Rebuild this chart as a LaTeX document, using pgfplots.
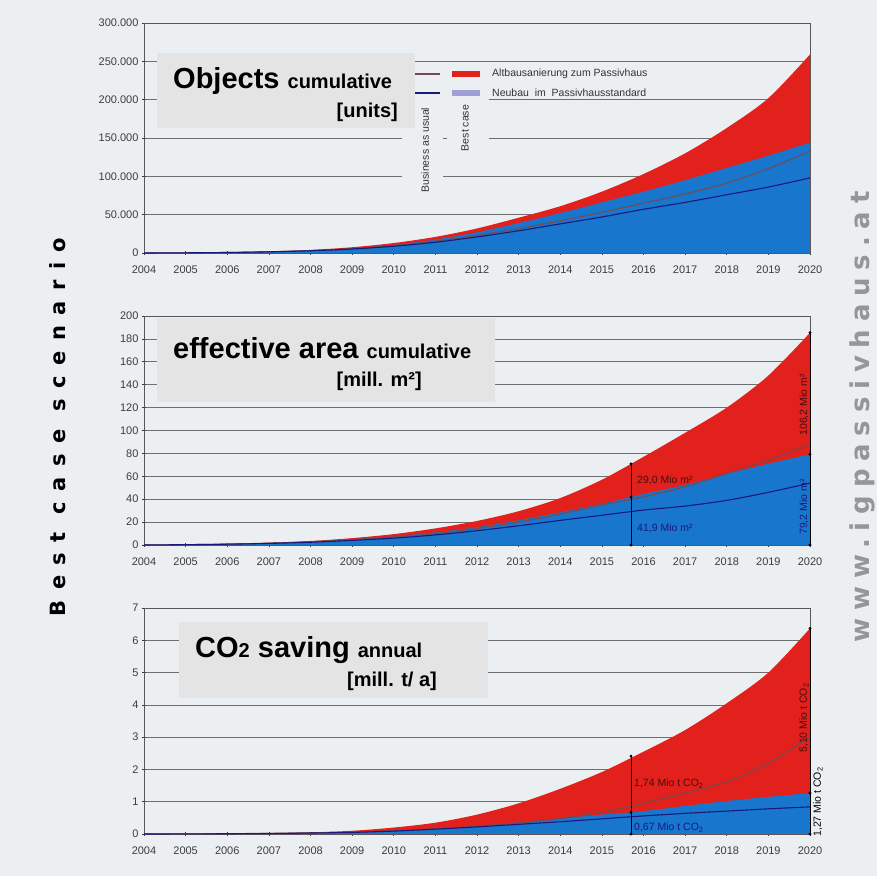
\documentclass[border=0pt]{standalone}
\usepackage{pgfplots}
\usepackage{pgfplotstable}
\pgfplotsset{compat=1.18}
\usepackage{fontspec}
\setmainfont{Liberation Sans}
\newfontfamily\wide{DejaVu Sans}

\definecolor{bg}{RGB}{236,239,242}
\definecolor{boxgrey}{RGB}{228,228,228}
\definecolor{pvred}{RGB}{226,32,28}
\definecolor{pvblue}{RGB}{24,118,204}
\definecolor{bauline}{RGB}{115,75,80}
\definecolor{navy}{RGB}{25,25,125}
\definecolor{lav}{RGB}{160,160,215}
\definecolor{gridc}{RGB}{110,110,110}
\definecolor{tickc}{RGB}{60,60,60}
\definecolor{notered}{RGB}{70,15,15}

% objects, cumulative [units]
\pgfplotstableread{
year red blue bau neu
2004 0 0 0 0
2005 300 250 250 230
2006 900 750 700 650
2007 2000 1700 1600 1500
2008 4000 3300 3100 2900
2009 7500 6000 5600 5200
2010 13000 10500 9500 8800
2011 21000 17500 15500 14000
2012 32000 27000 23000 21000
2013 46000 39000 32000 29000
2014 61000 52000 42000 38000
2015 80000 66000 53000 47000
2016 103000 80000 65000 57000
2017 130000 95000 77000 66000
2018 163000 111000 91000 76000
2019 202000 127000 110000 86000
2020 259000 144000 133000 98000
}\objects

% effective area, cumulative [mill. m2]
\pgfplotstableread{
year red blue bau neu
2004 0 0 0 0
2005 0.4 0.35 0.3 0.3
2006 1.0 0.9 0.8 0.7
2007 2.0 1.7 1.6 1.4
2008 3.5 3.0 2.8 2.4
2009 6.0 5.0 4.6 4.0
2010 9.5 7.5 7.0 6.0
2011 14.5 11.0 10.0 8.8
2012 21.0 15.5 14.5 12.5
2013 29.5 21.5 20.0 16.8
2014 41.0 28.5 27.0 21.5
2015 57.0 36.0 35.0 26.0
2016 77.0 44.5 42.0 30.5
2017 98.0 52.5 51.0 34.0
2018 120.0 62.0 62.5 39.0
2019 148.0 71.0 74.0 46.0
2020 185.4 79.2 88.0 54.0
}\area

% CO2 saving, annual [mill. t/a]
\pgfplotstableread{
year red blue bau neu
2004 0 0 0 0
2005 0.005 0.004 0.004 0.003
2006 0.012 0.010 0.010 0.008
2007 0.025 0.020 0.020 0.016
2008 0.05 0.035 0.035 0.030
2009 0.10 0.06 0.06 0.05
2010 0.20 0.10 0.10 0.09
2011 0.35 0.16 0.16 0.15
2012 0.60 0.25 0.24 0.22
2013 0.95 0.36 0.34 0.30
2014 1.40 0.48 0.48 0.38
2015 1.92 0.60 0.68 0.47
2016 2.55 0.71 0.95 0.56
2017 3.22 0.87 1.27 0.64
2018 4.05 1.02 1.62 0.71
2019 5.00 1.15 2.20 0.78
2020 6.37 1.27 3.00 0.84
}\cotwo

\pgfplotsset{
  panel/.style={
    scale only axis, width=666pt, anchor=south west,
    xmin=2004, xmax=2020, ymin=0,
    xtick={2004,2005,2006,2007,2008,2009,2010,2011,2012,2013,2014,2015,2016,2017,2018,2019,2020},
    xticklabels={2004,2005,2006,2007,2008,2009,2010,2011,2012,2013,2014,2015,2016,2017,2018,2019,2020},
    scaled y ticks=false,
    xtick pos=left, ytick pos=left,
    tick align=center, major tick length=4pt,
    tick style={tickc, line width=0.6pt},
    ymajorgrids, grid style={gridc, line width=0.7pt},
    axis line style={gridc!80!black, line width=0.8pt},
    tick label style={font=\fontsize{11}{13}\selectfont, text=tickc},
    x tick label style={yshift=-7pt},
    clip=false,
  },
  area/.style={draw=none, smooth},
  bau/.style={bauline, line width=1.1pt, smooth},
  neu/.style={navy, line width=1.1pt, smooth},
  note/.style={black, line width=0.6pt, mark=*, mark size=1.1pt, mark options={fill=black}},
}
\tikzset{lbl/.style={font=\fontsize{10.5}{12}\selectfont, inner sep=0}}

\begin{document}
\begin{tikzpicture}[x=1pt,y=1pt]
\useasboundingbox (0,0) rectangle (877,876);
\fill[bg] (0,0) rectangle (877,876);

% --- objects
\begin{axis}[panel, at={(144pt,623pt)}, height=230pt, ymax=300000,
  ytick={0,50000,100000,150000,200000,250000,300000},
  yticklabels={0,50.000,100.000,150.000,200.000,250.000,300.000}]
  \addplot[area, fill=pvred] table[x=year, y=red] {\objects} \closedcycle;
  \addplot[area, fill=pvblue] table[x=year, y=blue] {\objects} \closedcycle;
  \addplot[bau] table[x=year, y=bau] {\objects};
  \addplot[neu] table[x=year, y=neu] {\objects};
\end{axis}

% --- effective area
\begin{axis}[panel, at={(144pt,331pt)}, height=229pt, ymax=200,
  ytick={0,20,40,60,80,100,120,140,160,180,200},
  yticklabels={0,20,40,60,80,100,120,140,160,180,200}]
  \addplot[area, fill=pvred] table[x=year, y=red] {\area} \closedcycle;
  \addplot[area, fill=pvblue] table[x=year, y=blue] {\area} \closedcycle;
  \addplot[bau] table[x=year, y=bau] {\area};
  \addplot[neu] table[x=year, y=neu] {\area};
  \addplot[note] coordinates {(2015.7,0) (2015.7,41.9) (2015.7,70.9)};
  \addplot[note] coordinates {(2020,0) (2020,79.2) (2020,185.4)};
\end{axis}

% --- CO2
\begin{axis}[panel, at={(144pt,42pt)}, height=226pt, ymax=7,
  ytick={0,1,2,3,4,5,6,7},
  yticklabels={0,1,2,3,4,5,6,7}]
  \addplot[area, fill=pvred] table[x=year, y=red] {\cotwo} \closedcycle;
  \addplot[area, fill=pvblue] table[x=year, y=blue] {\cotwo} \closedcycle;
  \addplot[bau] table[x=year, y=bau] {\cotwo};
  \addplot[neu] table[x=year, y=neu] {\cotwo};
  \addplot[note] coordinates {(2015.7,0) (2015.7,0.67) (2015.7,2.41)};
  \addplot[note] coordinates {(2020,0) (2020,1.27) (2020,6.37)};
\end{axis}

% legend area of the top panel
\fill[bg] (402,876-101) rectangle (489,876-64);
\fill[bg] (402,876-200) rectangle (443,876-101);
\fill[bg] (447,876-162) rectangle (489,876-101);
\draw[bauline, line width=1.4pt] (413,876-74) -- (440,876-74);
\draw[navy, line width=1.4pt] (413,876-93) -- (440,876-93);
\fill[pvred] (452,876-77) rectangle (480,876-71);
\fill[lav] (452,876-96) rectangle (480,876-90);
\node[lbl, anchor=west, text=black!80] at (492,876-74) {Altbausanierung zum Passivhaus};
\node[lbl, anchor=west, text=black!80] at (492,876-93) {Neubau\ \ im\ \ Passivhausstandard};
\node[lbl, rotate=90, text=black!80] at (425,876-150) {Business as usual};
\node[lbl, rotate=90, text=black!80] at (465,876-128) {Best case};

% title boxes
\fill[boxgrey] (157,876-128) rectangle (415,876-53);
\fill[boxgrey] (157,876-402) rectangle (495,876-318);
\fill[boxgrey] (179,876-698) rectangle (488,876-622);

\node[anchor=base west, inner sep=0, font=\bfseries\fontsize{29}{30}\selectfont] at (173,876-89)
  {Objects {\fontsize{20}{22}\selectfont cumulative}};
\node[anchor=base east, inner sep=0, font=\bfseries\fontsize{20}{22}\selectfont] at (398,876-118) {[units]};

\node[anchor=base west, inner sep=0, font=\bfseries\fontsize{29}{30}\selectfont] at (173,876-359)
  {effective area {\fontsize{20}{22}\selectfont cumulative}};
\node[anchor=base east, inner sep=0, font=\bfseries\fontsize{20}{22}\selectfont] at (422,876-387) {[mill. m²]};

\node[anchor=base west, inner sep=0, font=\bfseries\fontsize{29}{30}\selectfont] at (195,876-657)
  {CO{\fontsize{20}{22}\selectfont 2} saving {\fontsize{20}{22}\selectfont annual}};
\node[anchor=base east, inner sep=0, font=\bfseries\fontsize{20}{22}\selectfont] at (437,876-686) {[mill. t/ a]};

% value notes
\node[lbl, anchor=west, text=notered] at (637,876-480) {29,0 Mio m²};
\node[lbl, anchor=west, text=navy] at (637,876-528) {41,9 Mio m²};
\node[lbl, rotate=90, text=notered] at (804,876-405) {106,2 Mio m²};
\node[lbl, rotate=90, text=navy] at (804,876-507) {79,2 Mio m²};

\node[lbl, anchor=west, text=notered] at (634,876-784) {1,74 Mio t CO\textsubscript{2}};
\node[lbl, anchor=west, text=navy] at (634,876-828) {0,67 Mio t CO\textsubscript{2}};
\node[lbl, rotate=90, text=notered] at (804,876-718) {5,10 Mio t CO\textsubscript{2}};
\node[lbl, rotate=90, text=black] at (818,876-802) {1,27 Mio t CO\textsubscript{2}};

% side texts
\node[rotate=90, anchor=base, inner sep=0,
  font=\wide\bfseries\fontsize{21}{24}\selectfont\addfontfeature{LetterSpace=50}]
  at (65,876-427) {Best case scenario};
\node[rotate=90, anchor=base, inner sep=0, text={rgb,255:red,150;green,150;blue,152},
  font=\wide\bfseries\fontsize{26}{28}\selectfont\addfontfeature{LetterSpace=30}]
  at (869,876-417) {www.igpassivhaus.at};
\end{tikzpicture}
\end{document}
